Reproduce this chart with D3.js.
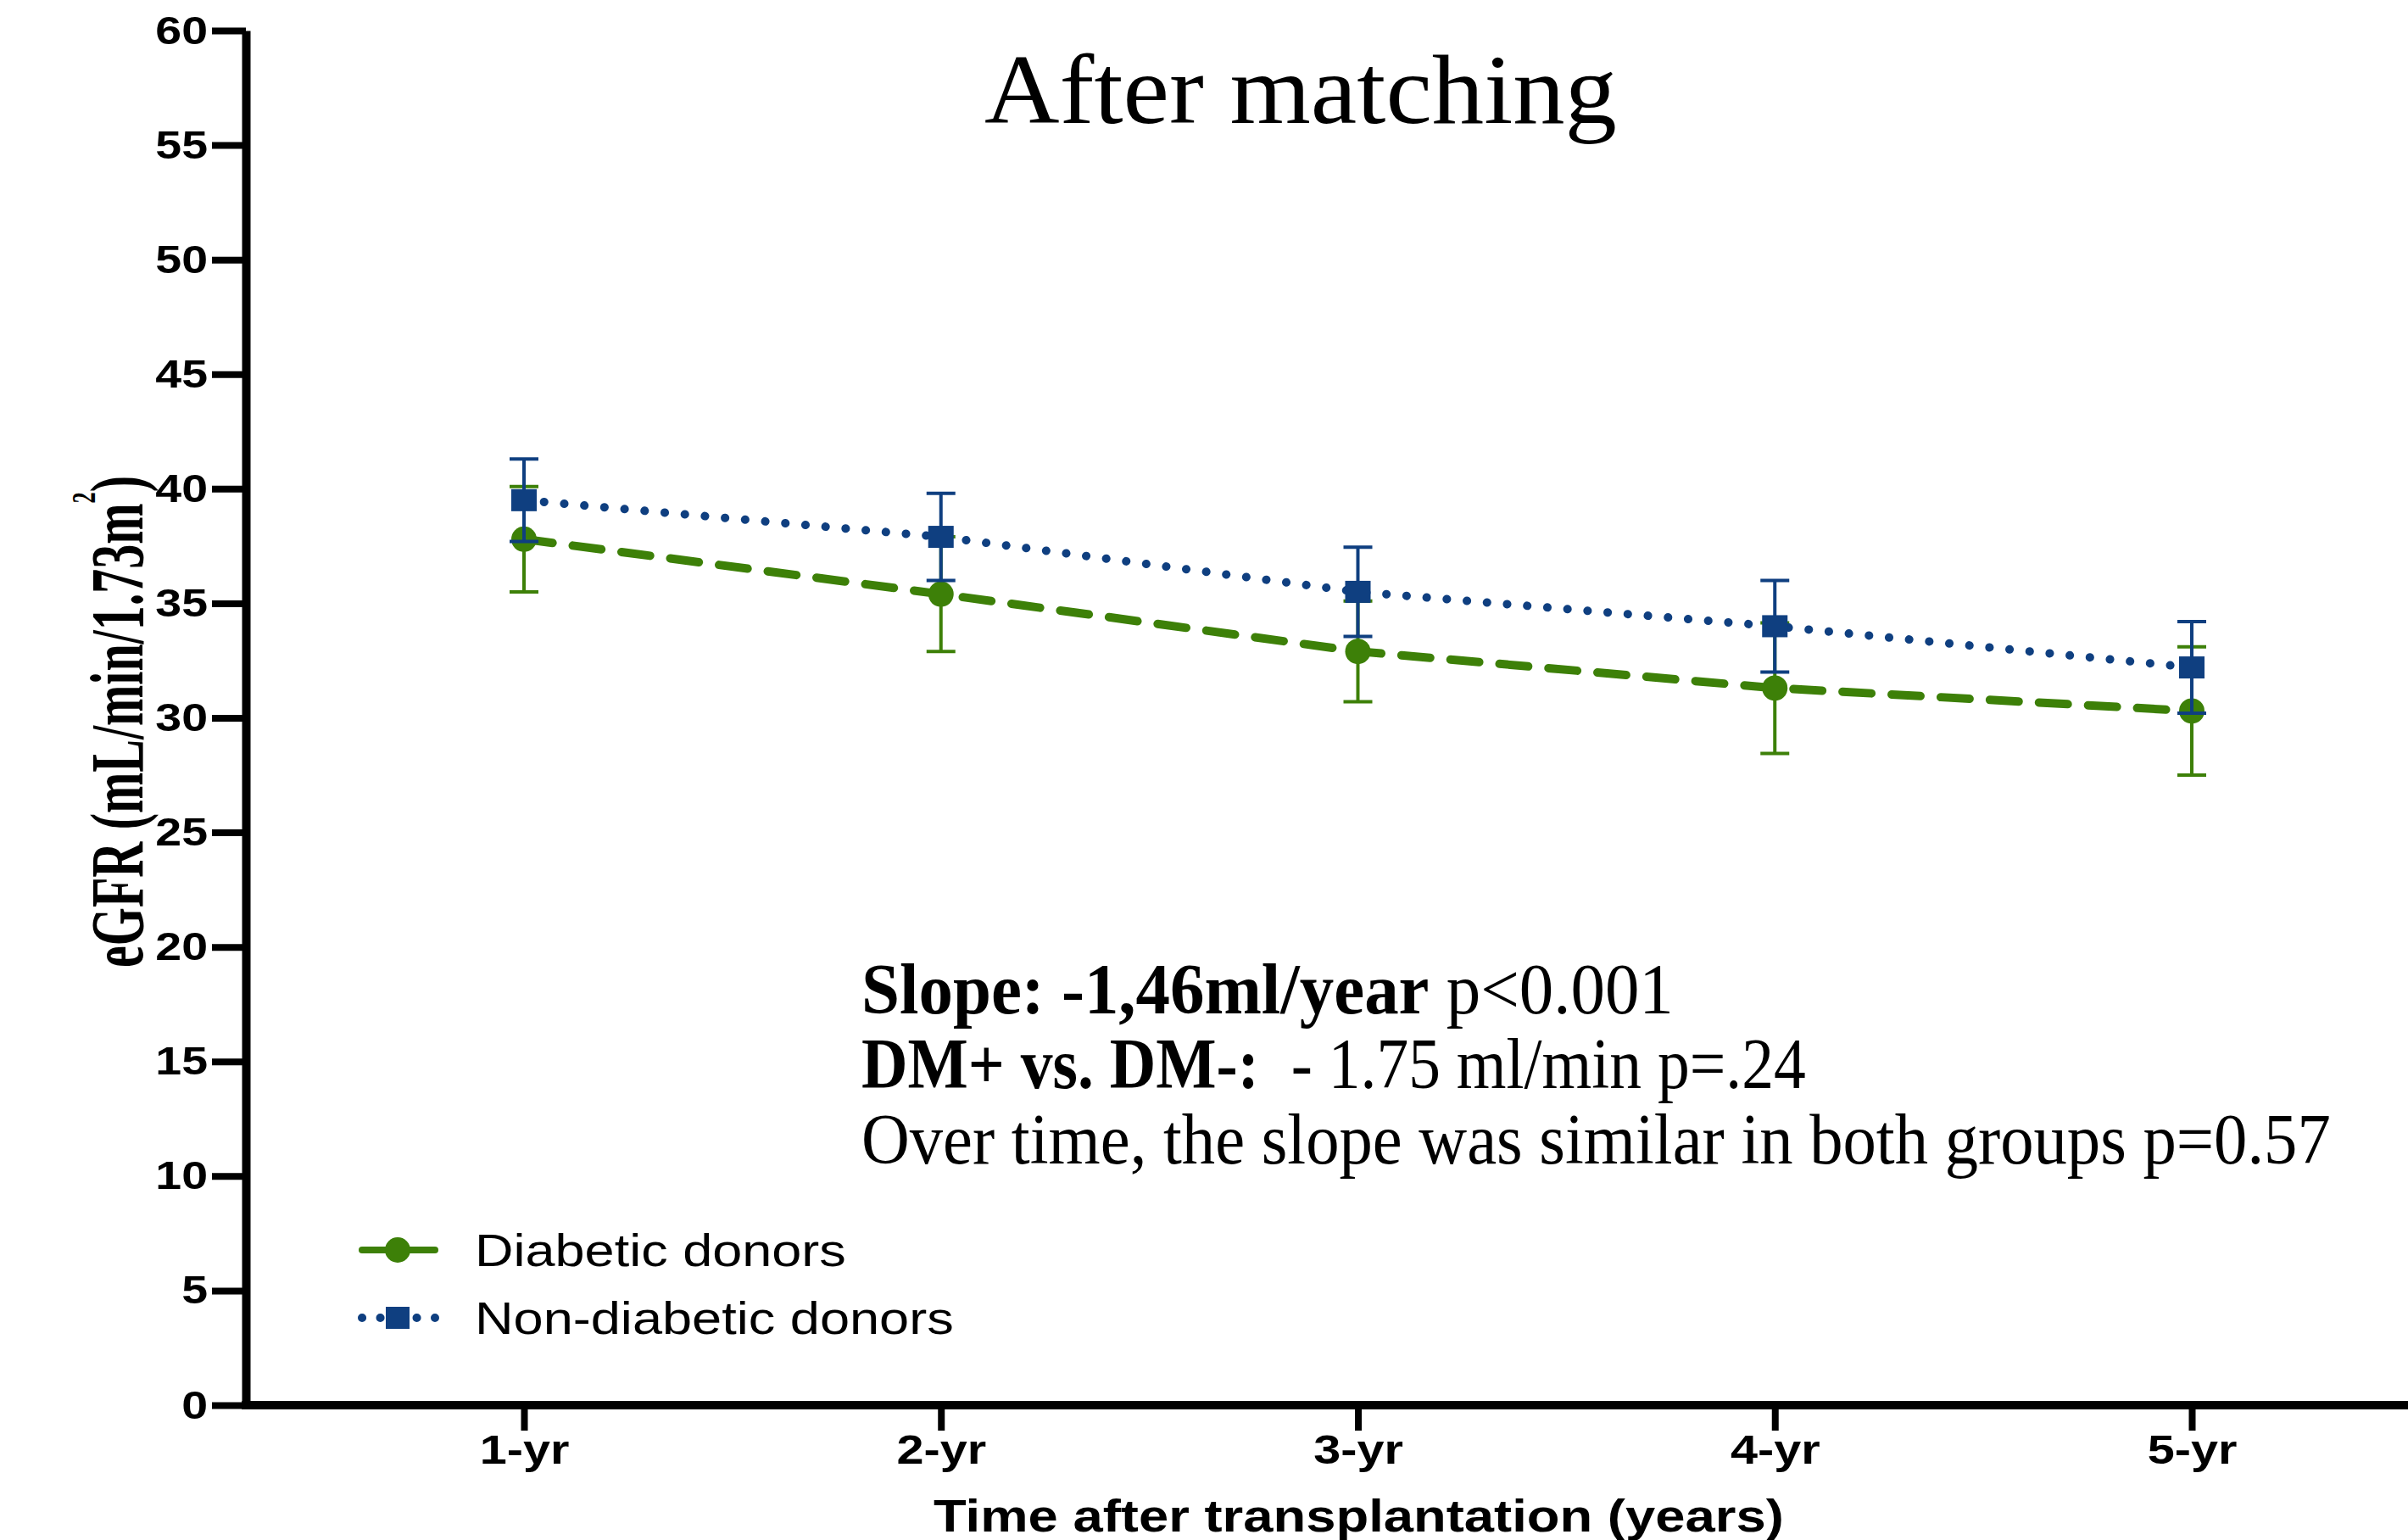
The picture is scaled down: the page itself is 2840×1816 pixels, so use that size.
<!DOCTYPE html>
<html>
    <head>
        <meta charset="utf-8">
        <title>After matching</title>
        <style type="text/css">
            body {
                margin: 0;
                background-color: #ffffff;
            }
            svg {
                display: block;
            }
            .sans {
                font-family: "Liberation Sans", Arial, Helvetica, sans-serif;
            }
            .serif {
                font-family: "Liberation Serif", "DejaVu Serif", serif;
            }
        </style>
        <script src="https://d3js.org/d3.v7.min.js"></script>
    </head>
    <body>
        <svg id="chart" width="2840" height="1816"></svg>
        <script>
            // values
            const categories = ["1-yr", "2-yr", "3-yr", "4-yr", "5-yr"];
            const diabeticMean = [37.8, 35.4, 32.9, 31.3, 30.3];
            const diabeticErr = [2.3, 2.5, 2.2, 2.85, 2.8];
            const nonDiabeticMean = [39.5, 37.9, 35.5, 34.0, 32.2];
            const nonDiabeticErr = [1.8, 1.9, 1.95, 2.0, 2.0];
            const yTicks = [0, 5, 10, 15, 20, 25, 30, 35, 40, 45, 50, 55, 60];
            const seriesNames = ["Diabetic donors", "Non-diabetic donors"];

            const green = "#3d8008";
            const blue = "#0f3f80";

            const svg = d3.select("#chart");

            const x = d3.scalePoint().domain(categories).range([618, 2585]);
            const y = d3.scaleLinear().domain([0, 60]).range([1657, 36]);
            const axisX = 290;

            // squeeze / stretch a text horizontally to a target width
            function fitWidth(sel, target, ax) {
                const w = sel.node().getBBox().width;
                const s = target / w;
                sel.attr("transform", `translate(${ax},0) scale(${s},1) translate(${-ax},0)`);
            }

            // y axis
            const yAxis = svg.append("g")
                .attr("transform", `translate(${axisX},0)`)
                .call(d3.axisLeft(y).tickValues(yTicks).tickSize(40).tickSizeOuter(0).tickPadding(5));
            yAxis.select(".domain").attr("stroke", "#000").attr("stroke-width", 10);
            yAxis.selectAll(".tick line").attr("stroke", "#000").attr("stroke-width", 8);
            yAxis.selectAll(".tick text")
                .attr("class", "sans")
                .attr("font-size", 47)
                .attr("font-weight", "bold")
                .attr("fill", "#000")
                .each(function() {
                    const t = d3.select(this);
                    const ax = +t.attr("x");
                    t.attr("transform", `translate(${ax},0) scale(1.18,1) translate(${-ax},0)`);
                });

            // x axis
            const xAxis = svg.append("g")
                .attr("transform", `translate(0,${y(0)})`)
                .call(d3.axisBottom(x).tickSize(30).tickSizeOuter(0).tickPadding(0));
            xAxis.select(".domain").attr("d", `M${axisX - 5},0H2840`).attr("stroke", "#000").attr("stroke-width", 10);
            xAxis.selectAll(".tick line").attr("stroke", "#000").attr("stroke-width", 8);
            xAxis.selectAll(".tick text")
                .attr("class", "sans")
                .attr("font-size", 48)
                .attr("font-weight", "bold")
                .attr("fill", "#000")
                .attr("y", 69)
                .attr("dy", 0)
                .attr("transform", "scale(1.2,1)");

            // lines
            const line = d3.line()
                .x(d => x(d.cat))
                .y(d => y(d.v));

            const diabetic = categories.map((c, i) => ({cat: c, v: diabeticMean[i], e: diabeticErr[i]}));
            const nonDiabetic = categories.map((c, i) => ({cat: c, v: nonDiabeticMean[i], e: nonDiabeticErr[i]}));

            function drawSeries(data, colour, dash, marker) {
                svg.append("path")
                    .datum(data)
                    .attr("d", line)
                    .attr("fill", "none")
                    .attr("stroke", colour)
                    .attr("stroke-width", 10)
                    .attr("stroke-linecap", "round")
                    .attr("stroke-dasharray", dash);

                const err = svg.append("g").selectAll("g")
                    .data(data)
                    .join("g")
                    .attr("stroke", colour)
                    .attr("stroke-width", 4);
                err.append("line")
                    .attr("x1", d => x(d.cat)).attr("x2", d => x(d.cat))
                    .attr("y1", d => y(d.v + d.e)).attr("y2", d => y(d.v - d.e));
                err.append("line")
                    .attr("x1", d => x(d.cat) - 17).attr("x2", d => x(d.cat) + 17)
                    .attr("y1", d => y(d.v + d.e)).attr("y2", d => y(d.v + d.e));
                err.append("line")
                    .attr("x1", d => x(d.cat) - 17).attr("x2", d => x(d.cat) + 17)
                    .attr("y1", d => y(d.v - d.e)).attr("y2", d => y(d.v - d.e));

                if (marker === "circle") {
                    svg.append("g").selectAll("circle")
                        .data(data)
                        .join("circle")
                        .attr("cx", d => x(d.cat))
                        .attr("cy", d => y(d.v))
                        .attr("r", 15)
                        .attr("fill", colour);
                } else {
                    svg.append("g").selectAll("rect")
                        .data(data)
                        .join("rect")
                        .attr("x", d => x(d.cat) - 15)
                        .attr("y", d => y(d.v) - 13)
                        .attr("width", 30)
                        .attr("height", 26)
                        .attr("fill", colour);
                }
            }

            drawSeries(diabetic, green, "34 24", "circle");
            drawSeries(nonDiabetic, blue, "0.1 23.7", "square");

            // legend
            const legend = svg.append("g");
            legend.append("line")
                .attr("x1", 427).attr("x2", 513).attr("y1", 1474).attr("y2", 1474)
                .attr("stroke", green).attr("stroke-width", 8).attr("stroke-linecap", "round");
            legend.append("circle")
                .attr("cx", 469).attr("cy", 1474).attr("r", 15).attr("fill", green);
            legend.append("line")
                .attr("x1", 427).attr("x2", 513).attr("y1", 1554).attr("y2", 1554)
                .attr("stroke", blue).attr("stroke-width", 10).attr("stroke-linecap", "round")
                .attr("stroke-dasharray", "0.1 21.4");
            legend.append("rect")
                .attr("x", 455).attr("y", 1541).attr("width", 28).attr("height", 26).attr("fill", blue);

            seriesNames.forEach((name, i) => {
                const t = legend.append("text")
                    .attr("class", "sans")
                    .attr("x", 560)
                    .attr("y", 1493 + i * 80)
                    .attr("font-size", 53)
                    .attr("fill", "#000")
                    .text(name);
                fitWidth(t, i === 0 ? 438 : 565, 560);
            });

            // title
            const title = svg.append("text")
                .attr("class", "serif")
                .attr("x", 1161)
                .attr("y", 145)
                .attr("font-size", 116)
                .attr("fill", "#000")
                .text("After matching");
            fitWidth(title, 746, 1161);

            // y axis title
            const yTitleG = svg.append("g").attr("transform", "translate(168,851) rotate(-90)");
            const yTitle = yTitleG.append("text")
                .attr("class", "serif")
                .attr("x", 0)
                .attr("y", 0)
                .attr("text-anchor", "middle")
                .attr("font-size", 88)
                .attr("font-weight", "bold")
                .attr("fill", "#000");
            yTitle.append("tspan").text("eGFR (mL/min/1.73m");
            yTitle.append("tspan").attr("dy", -56).attr("font-size", 40).text("2");
            yTitle.append("tspan").attr("dy", 56).text(")");
            fitWidth(yTitle, 580, 0);

            // x axis title
            const xTitle = svg.append("text")
                .attr("class", "sans")
                .attr("x", 1101)
                .attr("y", 1806)
                .attr("font-size", 54)
                .attr("font-weight", "bold")
                .attr("fill", "#000")
                .text("Time after transplantation (years)");
            fitWidth(xTitle, 1003, 1101);

            // annotation
            const notes = [
                {bold: "Slope: -1,46ml/year", rest: " p<0.001", w: 958},
                {bold: "DM+ vs. DM-:", rest: "\u00a0 - 1.75 ml/min p=.24", w: 1114},
                {bold: "", rest: "Over time, the slope was similar in both groups p=0.57", w: 1733}
            ];
            const noteY = [1195, 1283, 1372];
            notes.forEach((n, i) => {
                const t = svg.append("text")
                    .attr("class", "serif")
                    .attr("x", 1016)
                    .attr("y", noteY[i])
                    .attr("font-size", 84)
                    .attr("fill", "#000");
                if (n.bold) t.append("tspan").attr("font-weight", "bold").text(n.bold);
                t.append("tspan").text(n.rest);
                fitWidth(t, n.w, 1016);
            });
        </script>
    </body>
</html>
